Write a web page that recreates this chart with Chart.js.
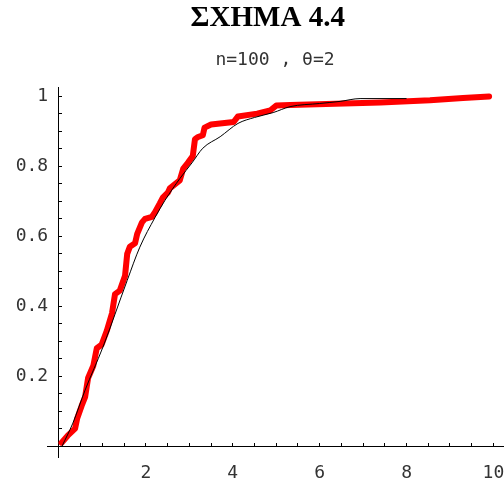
<!DOCTYPE html>
<html>
<head>
<meta charset="utf-8">
<script src="https://cdn.jsdelivr.net/npm/chart.js@4/dist/chart.umd.min.js"></script>
<style>
  body { margin: 0; background: #fff; }
</style>
</head>
<body>
<canvas id="cdfChart" width="504" height="481"></canvas>
<script>
const empX = [0.06, 0.2, 0.37, 0.42, 0.52, 0.6, 0.67, 0.79, 0.87, 0.98, 1.1, 1.22, 1.29, 1.4, 1.52, 1.57, 1.63, 1.75, 1.8, 1.91, 1.98, 2.14, 2.21, 2.32, 2.39, 2.51, 2.55, 2.78, 2.86, 2.97, 3.08, 3.13, 3.2, 3.31, 3.35, 3.5, 4.02, 4.12, 4.56, 4.86, 5.0, 5.32, 7.4, 8.54, 9.3, 9.9];
const empY = [0.01, 0.03, 0.05, 0.08, 0.115, 0.14, 0.195, 0.23, 0.28, 0.29, 0.33, 0.38, 0.435, 0.445, 0.487, 0.55, 0.57, 0.58, 0.607, 0.64, 0.65, 0.656, 0.669, 0.694, 0.711, 0.726, 0.737, 0.76, 0.794, 0.811, 0.83, 0.878, 0.884, 0.889, 0.911, 0.92, 0.927, 0.943, 0.951, 0.96, 0.974, 0.976, 0.983, 0.989, 0.996, 1.0];

// Thin black curve
const curveX = [0.07, 0.32, 0.6, 1.01, 1.57, 1.86, 2.21, 2.44, 2.78, 3.06, 3.31, 3.71, 4.12, 4.5, 4.93, 5.32, 6.0, 6.47, 6.93, 8.0];
const curveY = [0, 0.066, 0.16, 0.283, 0.474, 0.569, 0.654, 0.703, 0.765, 0.81, 0.852, 0.885, 0.923, 0.94, 0.954, 0.971, 0.98, 0.986, 0.994, 0.994];

// Tick setup
const xLabelled = [2, 4, 6, 8, 10];
const yLabelled = [0.2, 0.4, 0.6, 0.8, 1];
const xStep = 0.5;
const yStep = 0.05;

const toPoints = (xs, ys) => xs.map((x, i) => ({ x: x, y: ys[i] }));

const keepOnStep = step => scale => {
    scale.ticks = scale.ticks.filter(t => {
        const k = t.value / step;
        return t.value >= 0 && Math.abs(k - Math.round(k)) < 1e-6;
    });
};

// axes sit inside the plot, so don't let their labels shrink the chart area
const noPadding = scale => {
    scale.paddingLeft = scale.paddingRight = scale.paddingTop = scale.paddingBottom = 0;
};

const tickFont = { family: 'DejaVu Sans Mono', size: 18 };

new Chart(document.getElementById('cdfChart').getContext('2d'), {
    type: 'line',
    data: {
        datasets: [{
            data: toPoints(curveX, curveY),
            borderColor: '#000',
            borderWidth: 1,
            pointRadius: 0,
            cubicInterpolationMode: 'monotone',
            order: 0
        }, {
            data: toPoints(empX, empY),
            borderColor: '#ff0000',
            borderWidth: 6,
            borderJoinStyle: 'round',
            borderCapStyle: 'round',
            pointRadius: 0,
            tension: 0,
            order: 1
        }]
    },
    options: {
        responsive: false,
        animation: false,
        clip: false,
        layout: { padding: { left: 47, right: 1, top: 0, bottom: 24 } },
        plugins: {
            legend: { display: false },
            tooltip: { enabled: false },
            title: {
                display: true,
                text: 'ΣΧΗΜΑ 4.4\u00a0\u00a0',
                color: '#000',
                font: { family: 'Liberation Serif', size: 29, weight: 'bold' },
                padding: { top: 1, bottom: 3 }
            },
            subtitle: {
                display: true,
                text: 'n=100 , θ=2',
                color: '#333',
                font: { family: 'DejaVu Sans Mono', size: 18 },
                padding: { top: 11, bottom: 16 }
            }
        },
        scales: {
            x: {
                type: 'linear',
                position: { y: 0 },
                min: -0.276,
                max: 10.22,
                afterBuildTicks: keepOnStep(xStep),
                afterFit: noPadding,
                ticks: {
                    stepSize: xStep,
                    includeBounds: false,
                    autoSkip: false,
                    maxRotation: 0,
                    padding: 20,
                    color: '#333',
                    font: tickFont,
                    callback: v => xLabelled.some(l => Math.abs(l - v) < 1e-6) ? String(Math.round(v)) : ''
                },
                grid: { drawOnChartArea: false, color: '#000', tickLength: -4 },
                border: { display: true, color: '#000', width: 1 }
            },
            y: {
                type: 'linear',
                position: { x: 0 },
                min: -0.031,
                max: 1.026,
                afterBuildTicks: keepOnStep(yStep),
                afterFit: noPadding,
                ticks: {
                    stepSize: yStep,
                    includeBounds: false,
                    autoSkip: false,
                    color: '#333',
                    font: tickFont,
                    // trailing space keeps the label clear of the axis line
                    callback: v => {
                        const r = Math.round(v * 100) / 100;
                        return yLabelled.some(l => Math.abs(l - r) < 1e-6) ? r + ' ' : '';
                    }
                },
                grid: { drawOnChartArea: false, color: '#000', tickLength: -4 },
                border: { display: true, color: '#000', width: 1 }
            }
        }
    }
});
</script>
</body>
</html>
